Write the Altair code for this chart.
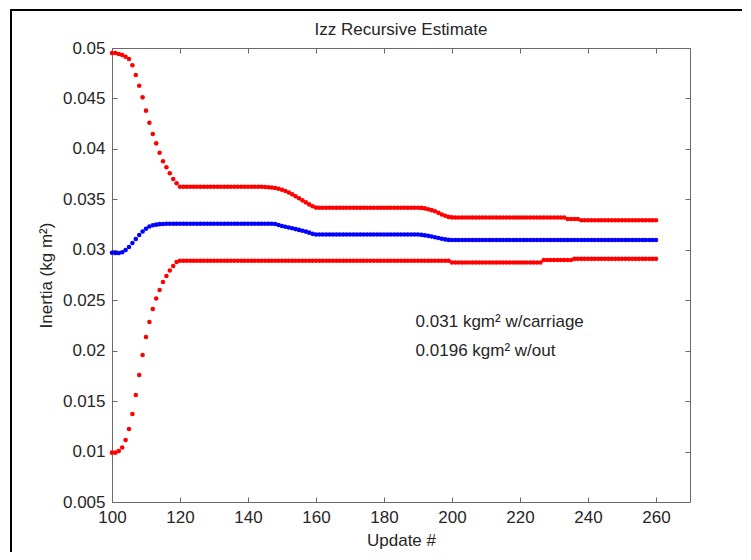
import altair as alt
import pandas as pd

# ---------------- data ----------------
updates = list(range(100, 261))

upper_bound = [
    0.04950, 0.04950, 0.04941, 0.04931, 0.04914, 0.04891, 0.04829, 0.04732, 0.04626, 0.04511,
    0.04379, 0.04259, 0.04148, 0.04055, 0.03962, 0.03877, 0.03818, 0.03758, 0.03702, 0.03659,
    0.03625, 0.03624, 0.03624, 0.03624, 0.03624, 0.03624, 0.03624, 0.03624, 0.03624, 0.03624,
    0.03624, 0.03624, 0.03624, 0.03624, 0.03624, 0.03624, 0.03624, 0.03624, 0.03624, 0.03624,
    0.03624, 0.03624, 0.03624, 0.03624, 0.03624, 0.03623, 0.03620, 0.03617, 0.03612, 0.03605,
    0.03595, 0.03583, 0.03568, 0.03550, 0.03530, 0.03510, 0.03490, 0.03470, 0.03450, 0.03432,
    0.03418, 0.03417, 0.03417, 0.03417, 0.03417, 0.03417, 0.03417, 0.03417, 0.03417, 0.03417,
    0.03417, 0.03417, 0.03417, 0.03417, 0.03417, 0.03417, 0.03417, 0.03417, 0.03417, 0.03417,
    0.03417, 0.03417, 0.03417, 0.03417, 0.03417, 0.03417, 0.03417, 0.03417, 0.03417, 0.03417,
    0.03417, 0.03415, 0.03410, 0.03402, 0.03393, 0.03382, 0.03366, 0.03350, 0.03337, 0.03326,
    0.03321, 0.03320, 0.03320, 0.03320, 0.03320, 0.03320, 0.03320, 0.03320, 0.03320, 0.03320,
    0.03320, 0.03320, 0.03320, 0.03320, 0.03320, 0.03320, 0.03320, 0.03320, 0.03320, 0.03320,
    0.03320, 0.03320, 0.03320, 0.03320, 0.03320, 0.03320, 0.03320, 0.03320, 0.03320, 0.03320,
    0.03320, 0.03320, 0.03320, 0.03320, 0.03305, 0.03305, 0.03305, 0.03305, 0.03292, 0.03292,
    0.03292, 0.03292, 0.03292, 0.03292, 0.03292, 0.03292, 0.03292, 0.03292, 0.03292, 0.03292,
    0.03292, 0.03292, 0.03292, 0.03292, 0.03292, 0.03292, 0.03292, 0.03292, 0.03292, 0.03292,
    0.03292,
]

estimate = [
    0.02971, 0.02968, 0.02968, 0.02975, 0.02998, 0.03028, 0.03067, 0.03107, 0.03147, 0.03181,
    0.03209, 0.03231, 0.03243, 0.03249, 0.03254, 0.03256, 0.03258, 0.03258, 0.03258, 0.03258,
    0.03258, 0.03258, 0.03258, 0.03258, 0.03258, 0.03258, 0.03258, 0.03258, 0.03258, 0.03258,
    0.03258, 0.03258, 0.03258, 0.03258, 0.03258, 0.03258, 0.03258, 0.03258, 0.03258, 0.03258,
    0.03258, 0.03258, 0.03258, 0.03258, 0.03258, 0.03258, 0.03258, 0.03258, 0.03255, 0.03245,
    0.03236, 0.03228, 0.03220, 0.03213, 0.03205, 0.03197, 0.03189, 0.03180, 0.03170, 0.03158,
    0.03152, 0.03151, 0.03151, 0.03151, 0.03151, 0.03151, 0.03151, 0.03151, 0.03151, 0.03151,
    0.03151, 0.03151, 0.03151, 0.03151, 0.03151, 0.03151, 0.03151, 0.03151, 0.03151, 0.03151,
    0.03151, 0.03151, 0.03151, 0.03151, 0.03151, 0.03151, 0.03151, 0.03151, 0.03151, 0.03151,
    0.03151, 0.03148, 0.03143, 0.03138, 0.03131, 0.03124, 0.03117, 0.03110, 0.03103, 0.03098,
    0.03097, 0.03097, 0.03097, 0.03097, 0.03097, 0.03097, 0.03097, 0.03097, 0.03097, 0.03097,
    0.03097, 0.03097, 0.03097, 0.03097, 0.03097, 0.03097, 0.03097, 0.03097, 0.03097, 0.03097,
    0.03097, 0.03097, 0.03097, 0.03097, 0.03097, 0.03097, 0.03097, 0.03097, 0.03097, 0.03097,
    0.03097, 0.03097, 0.03097, 0.03097, 0.03097, 0.03097, 0.03097, 0.03097, 0.03097, 0.03097,
    0.03097, 0.03097, 0.03097, 0.03097, 0.03097, 0.03097, 0.03097, 0.03097, 0.03097, 0.03097,
    0.03097, 0.03097, 0.03097, 0.03097, 0.03097, 0.03097, 0.03097, 0.03097, 0.03097, 0.03097,
    0.03097,
]

lower_bound = [
    0.00989, 0.00989, 0.01006, 0.01040, 0.01115, 0.01224, 0.01372, 0.01561, 0.01759, 0.01957,
    0.02136, 0.02284, 0.02413, 0.02517, 0.02601, 0.02681, 0.02740, 0.02795, 0.02839, 0.02879,
    0.02892, 0.02892, 0.02892, 0.02892, 0.02892, 0.02892, 0.02892, 0.02892, 0.02892, 0.02892,
    0.02892, 0.02892, 0.02892, 0.02892, 0.02892, 0.02892, 0.02892, 0.02892, 0.02892, 0.02892,
    0.02892, 0.02892, 0.02892, 0.02892, 0.02892, 0.02892, 0.02892, 0.02892, 0.02892, 0.02892,
    0.02892, 0.02892, 0.02892, 0.02892, 0.02892, 0.02892, 0.02892, 0.02892, 0.02892, 0.02892,
    0.02892, 0.02892, 0.02892, 0.02892, 0.02892, 0.02892, 0.02892, 0.02892, 0.02892, 0.02892,
    0.02892, 0.02892, 0.02892, 0.02892, 0.02892, 0.02892, 0.02892, 0.02892, 0.02892, 0.02892,
    0.02892, 0.02892, 0.02892, 0.02892, 0.02892, 0.02892, 0.02892, 0.02892, 0.02892, 0.02892,
    0.02892, 0.02892, 0.02892, 0.02892, 0.02892, 0.02892, 0.02892, 0.02892, 0.02892, 0.02892,
    0.02874, 0.02874, 0.02874, 0.02874, 0.02874, 0.02874, 0.02874, 0.02874, 0.02874, 0.02874,
    0.02874, 0.02874, 0.02874, 0.02874, 0.02874, 0.02874, 0.02874, 0.02874, 0.02874, 0.02874,
    0.02874, 0.02874, 0.02874, 0.02874, 0.02874, 0.02874, 0.02874, 0.02899, 0.02899, 0.02899,
    0.02899, 0.02899, 0.02899, 0.02899, 0.02899, 0.02899, 0.02910, 0.02910, 0.02910, 0.02910,
    0.02910, 0.02910, 0.02910, 0.02910, 0.02910, 0.02910, 0.02910, 0.02910, 0.02910, 0.02910,
    0.02910, 0.02910, 0.02910, 0.02910, 0.02910, 0.02910, 0.02910, 0.02910, 0.02910, 0.02910,
    0.02910,
]

x_ticks = [100, 120, 140, 160, 180, 200, 220, 240, 260]
y_ticks = [0.005, 0.01, 0.015, 0.02, 0.025, 0.03, 0.035, 0.04, 0.045, 0.05]

note_x = [189.3, 189.3]
note_y = [0.0228, 0.0200]
note_text = ["0.031 kgm\u00b2 w/carriage", "0.0196 kgm\u00b2 w/out"]

assert len(updates) == len(upper_bound) == len(estimate) == len(lower_bound)

df = pd.DataFrame({"update": updates, "upper": upper_bound,
                   "estimate": estimate, "lower": lower_bound})
notes = pd.DataFrame({"x": note_x, "y": note_y, "text": note_text})

# ---------------- styling ----------------
FONT = "Liberation Sans"
AXIS_COLOR = "#6a6a6a"
TEXT_COLOR = "#262626"
FS = 17

xscale = alt.Scale(domain=[100, 270], nice=False, zero=False)
yscale = alt.Scale(domain=[0.005, 0.05], nice=False, zero=False)

common = dict(offset=-5, tickSize=5, domain=False, grid=False,
              tickColor=AXIS_COLOR, tickWidth=1,
              labelFont=FONT, labelFontSize=FS, labelColor=TEXT_COLOR,
              titleFont=FONT, titleFontSize=FS, titleFontWeight="normal",
              titleColor=TEXT_COLOR, labelFlush=False, labelOverlap=False)

x_bottom = alt.Axis(orient="bottom", values=x_ticks, labelPadding=7,
                    title="Update #", titlePadding=7, **common)
y_left = alt.Axis(orient="left", values=y_ticks, format="~g", labelPadding=7,
                  title="Inertia (kg m\u00b2)", titlePadding=7, **common)
x_top = alt.Axis(orient="top", values=x_ticks, labels=False, title="",
                 titlePadding=0, **common)
y_right = alt.Axis(orient="right", values=y_ticks, labels=False, title="",
                   titlePadding=0, **common)

red = alt.Chart(df).transform_fold(
    ["upper", "lower"], as_=["bound", "value"]
).mark_circle(size=21, color="#ff0000", opacity=1).encode(
    x=alt.X("update:Q", scale=xscale, axis=x_bottom),
    y=alt.Y("value:Q", scale=yscale, axis=y_left),
    detail="bound:N",
)

blue = alt.Chart(df).mark_circle(size=21, color="#0000ff", opacity=1).encode(
    x=alt.X("update:Q", scale=xscale, axis=x_top),
    y=alt.Y("estimate:Q", scale=yscale, axis=y_right),
)

text = alt.Chart(notes).mark_text(
    align="left", baseline="middle", font=FONT, fontSize=FS, color=TEXT_COLOR
).encode(
    x=alt.X("x:Q", scale=xscale, axis=None),
    y=alt.Y("y:Q", scale=yscale, axis=None),
    text="text:N",
)

frame = alt.Chart(alt.Data(values=[{}])).mark_rect(
    fillOpacity=0, stroke="#000000", strokeWidth=2, clip=False
).encode(
    x=alt.value(-101), x2=alt.value(636), y=alt.value(-38), y2=alt.value(520)
)

chart = alt.layer(red, blue, text, frame).resolve_axis(
    x="independent", y="independent"
).properties(
    width=578,
    height=454,
    title=alt.Title("Izz Recursive Estimate", font=FONT, fontSize=FS,
                    fontWeight="normal", color=TEXT_COLOR, offset=10, dy=40),
    padding={"left": 104, "top": 40, "right": 52, "bottom": 50},
    autosize=alt.AutoSizeParams(type="none"),
).configure_view(stroke=AXIS_COLOR, strokeWidth=1)

chart.save("out.html", embed_options={"renderer": "svg", "actions": False})
